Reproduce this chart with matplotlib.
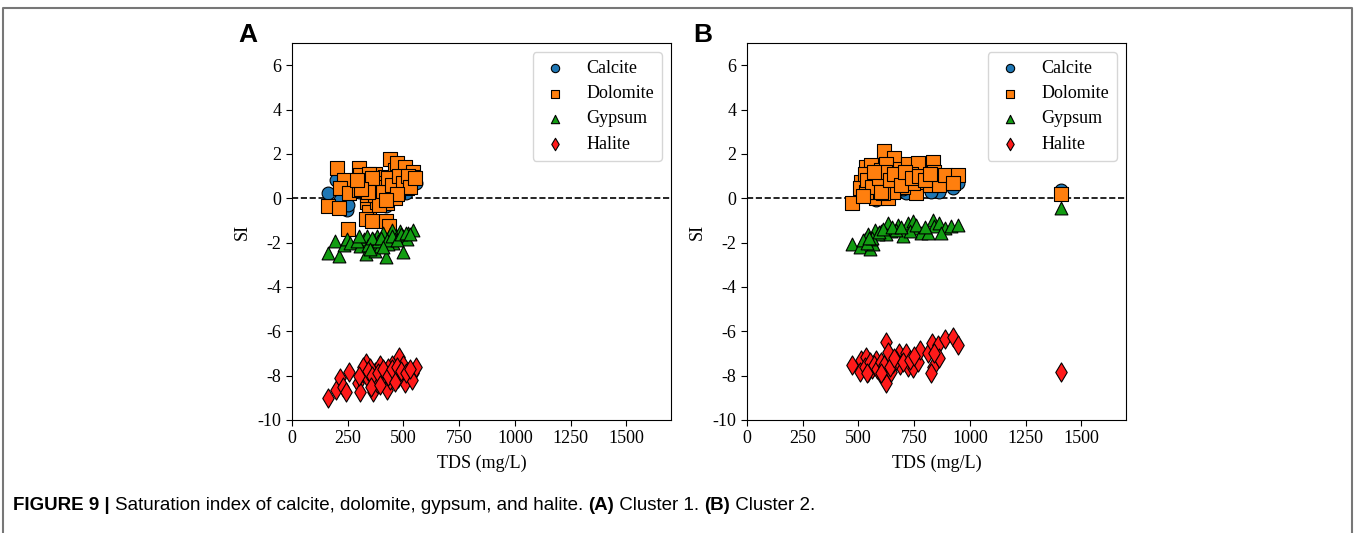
import matplotlib.pyplot as plt
from matplotlib.lines import Line2D

# Cluster 1 (panel A)
a_cal_tds = [163, 197, 215, 245, 253, 260, 422, 556, 511, 300, 335, 370, 395, 440, 470, 490, 520, 540, 380, 350, 455, 405, 320]
a_cal_si = [0.22, 0.81, -0.07, -0.55, -0.3, 0.22, -0.37, 0.67, 0.25, 0.3, 0.1, 0.45, 0.2, 0.6, 0.5, 0.7, 0.55, 0.8, 0.0, 0.35, 0.4, 0.15, 0.5]
a_dol_tds = [200, 163, 212, 233, 215, 257, 253, 302, 319, 305, 335, 347, 332, 357, 372, 362, 380, 395, 417, 440,
             462, 470, 507, 541, 541, 514, 477, 454, 422, 422, 437, 426, 335, 345, 302, 395, 492, 522, 499, 447,
             402, 462, 372, 380, 410, 430, 450, 480, 500, 520, 530, 550, 390, 360, 340, 310, 290, 470, 420]
a_dol_si = [1.36, -0.33, -0.44, 0.81, 0.47, 0.22, -1.38, 1.36, 0.67, 1.04, -0.15, -0.6, -0.92, -1.04, 1.11, 0.67, -0.15, 0.37, 0.96, 1.75,
            1.26, 1.59, 1.41, 1.19, 0.96, 0.44, 0.3, 0.81, 0.15, -1.04, -1.23, -0.22, 0.15, 1.11, 0.37, 0.67, 0.81, 0.74, 0.52, 0.52,
            0.0, 0.0, 0.15, 0.5, 0.3, 0.9, 0.6, 1.0, 0.7, 1.0, 0.5, 0.9, -0.3, 0.9, 0.3, 0.4, 0.8, 0.2, -0.1]
a_gyp_tds = [163, 212, 193, 233, 248, 260, 305, 332, 323, 350, 372, 380, 395, 422, 417, 440, 454, 470, 499, 499,
             522, 544, 484, 514, 447, 410, 365, 290, 335, 432, 387, 462, 300, 340, 360, 400, 425, 450, 470, 490,
             510, 530, 350, 410]
a_gyp_si = [-2.49, -2.62, -1.93, -2.12, -1.85, -2.0, -2.15, -2.52, -1.82, -2.0, -2.37, -1.7, -2.15, -2.67, -1.85, -1.63, -2.0, -1.7, -2.44, -1.7,
            -1.56, -1.41, -1.48, -1.85, -1.41, -1.56, -1.85, -1.93, -1.7, -2.07, -1.93, -1.85, -1.7, -2.1, -1.8, -1.8, -1.9, -1.7, -1.9, -1.6,
            -1.55, -1.6, -2.3, -2.2]
a_hal_tds = [163, 197, 215, 230, 242, 257, 298, 305, 313, 332, 350, 365, 372, 395, 417, 425, 447, 462, 481, 499,
             507, 522, 544, 556, 335, 380, 440, 477, 402, 537, 350, 429, 320, 340, 360, 385, 410, 430, 450, 470,
             490, 510, 530, 300, 355, 395, 460]
a_hal_si = [-9.02, -8.65, -8.12, -8.5, -8.72, -7.85, -8.35, -8.72, -7.82, -7.44, -8.2, -8.72, -7.82, -7.52, -7.82, -8.65, -7.52, -7.9, -7.14, -7.52,
            -8.35, -7.82, -7.9, -7.62, -8.05, -8.35, -8.2, -8.12, -8.05, -8.2, -7.67, -7.67, -7.6, -7.8, -8.0, -7.9, -7.7, -8.0, -7.7, -7.6,
            -7.8, -7.9, -7.7, -8.0, -8.5, -8.4, -8.3]

# Cluster 2 (panel B)
b_cal_tds = [513, 580, 890, 946, 863, 825, 744, 715, 923, 834, 1410, 560, 620, 660, 700, 780, 540, 640]
b_cal_si = [0.15, -0.07, 0.67, 0.67, 0.3, 0.3, 0.22, 0.22, 0.44, 1.1, 0.35, 0.3, 0.2, 0.5, 0.4, 0.6, 0.1, 0.35]
b_dol_tds = [473, 614, 658, 513, 532, 553, 558, 603, 625, 647, 677, 685, 722, 766, 737, 759, 782, 834, 841, 819,
             863, 890, 946, 923, 580, 632, 550, 506, 580, 625, 700, 655, 610, 528, 715, 744, 536, 1410, 540, 560,
             590, 600, 620, 640, 660, 690, 710, 740, 770, 800, 820, 520, 570]
b_dol_si = [-0.22, 2.12, 1.82, 0.74, 1.41, 1.04, 1.48, 1.26, 1.56, 0.96, 0.89, 1.33, 1.56, 1.59, 1.11, 0.22, 0.74, 1.63, 1.19, 0.59,
            0.59, 1.04, 1.07, 0.67, 0.0, 0.0, 0.3, 0.44, 0.67, 0.44, 0.52, 0.3, 0.22, 1.11, 0.81, 0.67, 0.3, 0.2, 0.8, 0.5,
            0.9, 0.3, 1.2, 0.8, 1.1, 0.6, 1.2, 0.9, 1.0, 0.8, 1.1, 0.1, 1.2]
b_gyp_tds = [473, 506, 553, 565, 528, 543, 573, 603, 632, 647, 677, 700, 722, 744, 759, 782, 834, 841, 863, 886,
             916, 946, 625, 670, 588, 730, 811, 871, 558, 1410, 520, 540, 560, 590, 610, 650, 690, 760, 800, 545]
b_gyp_si = [-2.07, -2.22, -2.3, -2.07, -1.85, -1.63, -1.41, -1.48, -1.11, -1.48, -1.19, -1.7, -1.11, -1.04, -1.33, -1.56, -0.96, -1.26, -1.11, -1.33,
            -1.26, -1.19, -1.63, -1.41, -1.63, -1.48, -1.56, -1.56, -1.85, -0.45, -1.9, -2.0, -1.8, -1.5, -1.4, -1.3, -1.3, -1.2, -1.3, -1.8]
b_hal_tds = [473, 513, 536, 506, 543, 565, 580, 595, 622, 632, 625, 610, 647, 655, 682, 685, 715, 722, 744, 766,
             774, 811, 831, 834, 826, 856, 861, 841, 890, 923, 946, 670, 1410, 530, 550, 560, 570, 585, 600, 615,
             640, 660, 700, 730, 750, 540, 600]
b_hal_si = [-7.52, -7.29, -7.15, -7.82, -7.82, -7.6, -7.29, -7.9, -6.47, -6.92, -8.35, -7.75, -7.82, -7.44, -6.99, -7.52, -6.99, -7.6, -7.67, -7.37,
            -6.84, -6.99, -6.54, -7.6, -7.9, -6.62, -7.22, -6.99, -6.36, -6.27, -6.62, -7.29, -7.82, -7.6, -7.4, -7.7, -7.5, -7.7, -7.4, -7.5,
            -7.6, -7.2, -7.4, -7.3, -7.1, -7.9, -7.9]

panels = [
    ('A', a_cal_tds, a_cal_si, a_dol_tds, a_dol_si, a_gyp_tds, a_gyp_si, a_hal_tds, a_hal_si),
    ('B', b_cal_tds, b_cal_si, b_dol_tds, b_dol_si, b_gyp_tds, b_gyp_si, b_hal_tds, b_hal_si),
]

plt.rcParams['font.family'] = ['Liberation Serif', 'DejaVu Serif']
plt.rcParams['axes.unicode_minus'] = False
fig = plt.figure(figsize=(13.55, 5.33), dpi=100)
sans = ['Liberation Sans', 'DejaVu Sans']

lefts = [292 / 1355, 747 / 1355]
for left, (tag, ct, cs, dt, ds, gt, gs, ht, hs) in zip(lefts, panels):
    ax = fig.add_axes([left, 113 / 533, 379 / 1355, 377 / 533])
    ax.axhline(0, color='black', linestyle='--', linewidth=1.2, zorder=1)
    ax.scatter(ct, cs, marker='o', s=85, c='#1f77b4', edgecolors='black', linewidths=0.8, label='Calcite', zorder=2)
    ax.scatter(dt, ds, marker='s', s=95, c='#ff7f0e', edgecolors='black', linewidths=0.8, label='Dolomite', zorder=3)
    ax.scatter(gt, gs, marker='^', s=85, c='#129c12', edgecolors='black', linewidths=0.8, label='Gypsum', zorder=3)
    ax.scatter(ht, hs, marker='d', s=95, c='#ff1a1a', edgecolors='black', linewidths=0.8, label='Halite', zorder=3)
    ax.set_xlim(0, 1700)
    ax.set_ylim(-10, 7)
    ax.set_xticks([0, 250, 500, 750, 1000, 1250, 1500])
    ax.set_yticks([-10, -8, -6, -4, -2, 0, 2, 4, 6])
    ax.tick_params(labelsize=13, length=4)
    ax.set_xlabel('TDS (mg/L)', fontsize=13, labelpad=5)
    ax.set_ylabel('SI', fontsize=13, labelpad=5)
    ax.legend(loc='upper right', fontsize=13, markerscale=0.65, borderpad=0.45, labelspacing=0.45,
              handletextpad=0.9, handlelength=1.6)
    fig.text(left - 44 / 1355, 1 - 35 / 533, tag, fontsize=19, fontweight='bold',
             family=sans, ha='center', va='center')

# frame around the figure
fig.add_artist(Line2D([3 / 1355, 3 / 1355, 1352 / 1355, 1352 / 1355], [0, 1 - 8 / 533, 1 - 8 / 533, 0],
                      transform=fig.transFigure, color='#777777', linewidth=1.5))

# caption, built piece by piece
renderer = fig.canvas.get_renderer()
pieces = [('FIGURE 9 | ', 'bold'), ('Saturation index of calcite, dolomite, gypsum, and halite. ', 'normal'),
          ('(A)', 'bold'), (' Cluster 1. ', 'normal'), ('(B)', 'bold'), (' Cluster 2.', 'normal')]
x = 13
for s, w in pieces:
    t = fig.text(x / 1355, 1 - 506 / 533, s, fontsize=13.5, fontweight=w, family=sans, va='center')
    x += t.get_window_extent(renderer).width

fig.savefig('out.png', dpi=100)
